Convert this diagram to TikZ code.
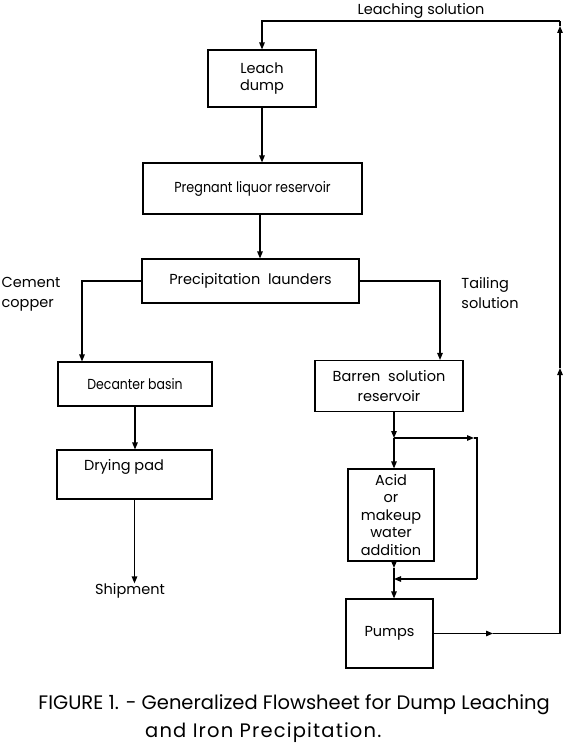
\documentclass[tikz,border=0pt]{standalone}
\usepackage{fontspec}
\setmainfont{Poppins}
\usetikzlibrary{arrows.meta}
\tikzset{
  box/.style={draw, line width=1.1pt, rectangle, inner sep=0pt, align=center, font=\fontsize{14.5}{17}\selectfont},
  lbl/.style={inner sep=0pt, align=left, font=\fontsize{14.5}{20}\selectfont},
  conn/.style={line width=1.2pt},
  arr/.style={conn, -{Triangle[length=7pt,width=5.5pt]}},
  captext/.style={inner sep=0pt, font=\fontsize{19.5}{24}\selectfont},
}
\begin{document}
\begin{tikzpicture}[x=1pt,y=-1pt]
\useasboundingbox (0,0) rectangle (570,749);
% boxes
\node[box, minimum width=108pt, minimum height=57pt] (leach) at (262,78.5) {Leach\\dump};
\node[box, minimum width=219pt, minimum height=51pt] (preg) at (252.5,188.5) {\scalebox{0.88}[1]{Pregnant liquor reservoir}};
\node[box, minimum width=217pt, minimum height=44pt] (precip) at (250.5,281) {Precipitation\ \ launders};
\node[box, minimum width=154pt, minimum height=44pt] (decant) at (135,384) {\scalebox{0.86}[1]{Decanter basin}};
\node[box, minimum width=155pt, minimum height=49pt] (dry) at (134.5,474.5) {};
\node[lbl] (drytext) at (124,467) {Drying pad};
\node[box, minimum width=148pt, minimum height=51pt, font=\fontsize{14.5}{20}\selectfont] (barren) at (389,386) {Barren\ \ solution\\reservoir};
\node[box, minimum width=86pt, minimum height=92pt, font=\fontsize{14.5}{17.5}\selectfont] (acid) at (391,515) {Acid\\or\\makeup\\water\\addition};
\node[box, minimum width=87pt, minimum height=69pt] (pumps) at (389.5,633.5) {Pumps};
% labels
\node[lbl] (ship) at (130,591) {Shipment};
\node[lbl] (cement) at (31,294) {Cement\\copper};
\node[lbl] (tail) at (490,293) {Tailing\\solution};
\node[lbl] (leachsol) at (421,11) {Leaching solution};
% coordinates
\coordinate (cl) at (82,281);
\coordinate (cr) at (440,281);
\coordinate (j1) at (394,438);
\coordinate (j2) at (394,579);
\coordinate (lr1) at (474,438);
\coordinate (lr2) at (477,438);
\coordinate (lr3) at (477,579);
\coordinate (am) at (394,568);
\coordinate (pm) at (493,633.5);
\coordinate (c1) at (560,633.5);
\coordinate (m2) at (560,368);
\coordinate (m3) at (560,26);
\coordinate (c2) at (560,21);
% connectors
\draw[arr] (leach.south) -- (leach.south |- preg.north);
\draw[arr] (preg.south -| 260,0) -- (precip.north -| 260,0);
\draw[arr] (precip.west) -- (cl) -- (cl |- decant.north);
\draw[arr] (precip.east) -- (cr) -- (cr |- barren.north);
\draw[arr] (decant.south) -- (decant.south |- dry.north);
\draw[arr] (dry.south) -- (dry.south |- ship.north);
\draw[arr] (barren.south -| j1) -- (j1);
\draw[arr] (j1) -- (j1 |- acid.north);
\draw[arr] (j1) -- (lr1);
\draw[conn] (lr1) -- (lr2) -- (lr3);
\draw[arr] (lr3) -- (j2);
\draw[arr] (j1 |- acid.south) -- (am);
\draw[conn] (am) -- (j2);
\draw[arr] (j2) -- (j2 |- pumps.north);
\draw[arr] (pumps.east) -- (pm);
\draw[conn] (pm) -- (c1);
\draw[arr] (c1) -- (m2);
\draw[arr] (m2) -- (m3);
\draw[arr] (c2) -- (c2 -| leach.north) -- (leach.north);
\draw[conn] (m3) -- (c2);
% caption
\node[captext, anchor=base east] (cap1) at (550,709) {FIGURE 1. - Generalized Flowsheet for Dump Leaching};
\node[captext, anchor=base west] (cap2) at (145,737) {\addfontfeatures{LetterSpace=6}and Iron Precipitation.};
\end{tikzpicture}
\end{document}
